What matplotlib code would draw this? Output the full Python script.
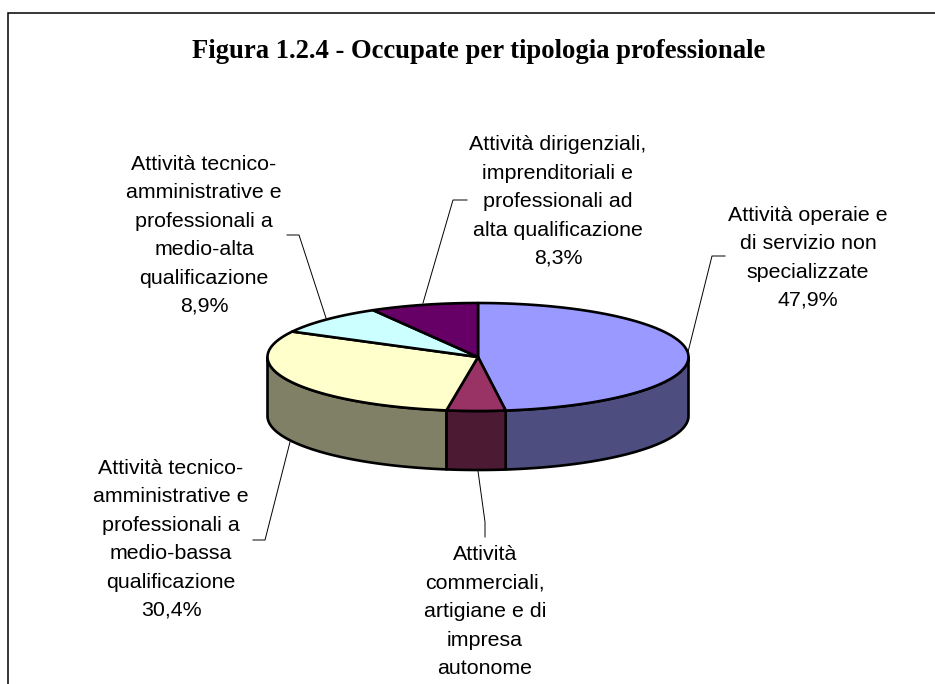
import numpy as np
import matplotlib
matplotlib.use("Agg")
import matplotlib.pyplot as plt
from matplotlib.patches import Polygon

titolo = "Figura 1.2.4 - Occupate per tipologia professionale"
etichette = [
    "Attività operaie e\ndi servizio non\nspecializzate\n47,9%",
    "Attività\ncommerciali,\nartigiane e di\nimpresa\nautonome",
    "Attività tecnico-\namministrative e\nprofessionali a\nmedio-bassa\nqualificazione\n30,4%",
    "Attività tecnico-\namministrative e\nprofessionali a\nmedio-alta\nqualificazione\n8,9%",
    "Attività dirigenziali,\nimprenditoriali e\nprofessionali ad\nalta qualificazione\n8,3%",
]
valori = [47.9, 4.5, 30.4, 8.9, 8.3]
col_sopra = ["#9999FF", "#993366", "#FFFFCC", "#CCFFFF", "#660066"]
col_lato = ["#4D4D80", "#4D1A33", "#808066", "#668080", "#330033"]

# posizioni in pixel del riferimento (x centro, baseline ultima riga)
cx, cy = 478, 357
rx, ry = 210.5, 54
spessore = 59
pos_testo = [(808, 306), (485, 674), (171, 616), (204, 312), (558, 264)]
guide = [
    [(688, 352), (712, 256), (725, 256)],
    [(478, 471), (485, 522), (485, 537)],
    [(290, 442), (265, 540), (253, 540)],
    [(326, 318), (299, 235), (287, 235)],
    [(423, 303), (453, 200), (467, 200)],
]


def punti(a0, a1, dy=0):
    # angoli in gradi, orari da ore 12
    t = np.radians(np.linspace(a0, a1, 120))
    return np.column_stack([cx + rx * np.sin(t), cy + dy - ry * np.cos(t)])


fig = plt.figure(figsize=(9.35, 6.84), dpi=100)
ax = fig.add_axes([0, 0, 1, 1])
ax.set_xlim(0, 935)
ax.set_ylim(684, 0)
ax.axis("off")

ax.plot([8, 8, 935], [684, 13, 13], color="black", lw=1.1, solid_joinstyle="miter")

confini = np.concatenate([[0], np.cumsum(valori)]) / sum(valori) * 360
for i in range(len(valori)):
    a0, a1 = confini[i], confini[i + 1]
    # lato visibile solo nella meta davanti
    b0, b1 = max(a0, 90), min(a1, 270)
    if b1 > b0:
        sopra = punti(b0, b1)
        sotto = punti(b0, b1, spessore)[::-1]
        ax.add_patch(Polygon(np.vstack([sopra, sotto]), closed=True, fc=col_lato[i],
                             ec="black", lw=1.9, joinstyle="round", zorder=2))
for i in range(len(valori)):
    arco = punti(confini[i], confini[i + 1])
    ax.add_patch(Polygon(np.vstack([[cx, cy], arco]), closed=True, fc=col_sopra[i],
                         ec="black", lw=1.9, joinstyle="round", zorder=3))

for g in guide:
    g = np.array(g)
    ax.plot(g[:, 0], g[:, 1], color="black", lw=0.7, zorder=1)

for testo, (x, y) in zip(etichette, pos_testo):
    ax.text(x, y, testo, ha="center", va="baseline", multialignment="center",
            family="Liberation Sans", fontsize=15.4, linespacing=1.625, color="black")

ax.text(478.5, 58, titolo, ha="center", va="baseline", family="Liberation Serif",
        fontweight="bold", fontsize=19.2, color="black")

fig.savefig("out.png", dpi=100)
